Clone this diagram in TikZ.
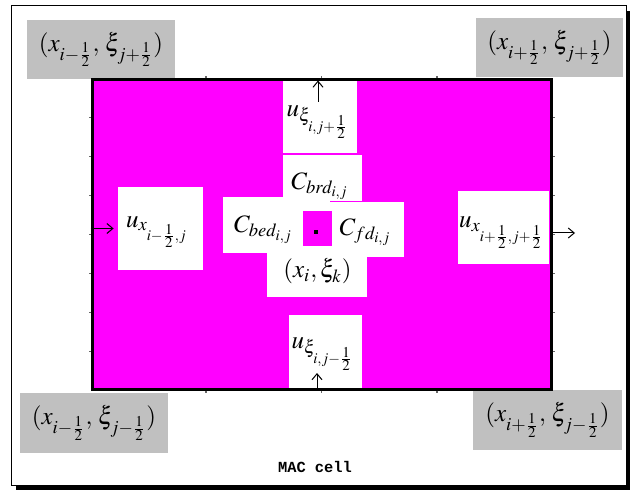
\documentclass[tikz,border=0pt]{standalone}
\usepackage{mathptmx}
\usepackage[no-math]{fontspec}
\newfontfamily\macfont{Liberation Mono}
\usetikzlibrary{arrows.meta, positioning, calc}
\definecolor{CellMagenta}{RGB}{255,0,255}
\definecolor{CornerGray}{RGB}{192,192,192}

\begin{document}
\begin{tikzpicture}[
    x=0.5pt, y=-0.5pt,
    lbl/.style={inner sep=0pt, font=\fontsize{12.5}{15}\selectfont},
    corner/.style={lbl, fill=CornerGray, minimum width=74pt, minimum height=29.5pt},
    facebox/.style={fill=white, inner sep=0pt},
    flux/.style={-{Straight Barb[length=3pt, width=5pt]}, line width=0.5pt},
    tick/.style={line width=0.6pt, black!60},
]
\useasboundingbox (0,0) rectangle (630,491);

% ---- canvas ----
\fill[black] (16,11) rectangle (632,490);
\filldraw[fill=white, draw=black, line width=0.5pt] (11,6) rectangle (626,485);

% ---- corner points ----
\node[corner] (nw) at (101,49.5) {$(x_{i-\frac{1}{2}},\,\xi_{j+\frac{1}{2}})$};
\node[corner, minimum width=73.5pt] (ne) at (549.5,47.5) {$(x_{i+\frac{1}{2}},\,\xi_{j+\frac{1}{2}})$};
\node[corner, minimum height=30pt] (sw) at (94,423) {$(x_{i-\frac{1}{2}},\,\xi_{j-\frac{1}{2}})$};
\node[corner, minimum width=74.5pt, minimum height=30pt] (se) at (547.5,420) {$(x_{i+\frac{1}{2}},\,\xi_{j-\frac{1}{2}})$};

% ---- cell ----
\node[draw, line width=1.5pt, fill=CellMagenta, inner sep=0pt,
    minimum width=229.5pt, minimum height=154.5pt] (cell) at (321.5,234.5) {};
\foreach \t in {1,2,3}{
    \draw[tick] ($(cell.north west)!\t/4!(cell.north east)$) -- ++(0,-2);
    \draw[tick] ($(cell.south west)!\t/4!(cell.south east)$) -- ++(0,2);
}
\foreach \t in {1,...,7}{
    \draw[tick] ($(cell.north west)!\t/8!(cell.south west)$) -- ++(-2,0);
    \draw[tick] ($(cell.north east)!\t/8!(cell.south east)$) -- ++(2,0);
}

% ---- face velocities ----
\node[facebox, minimum width=42.5pt, minimum height=41.5pt] (uw) at (160.5,228.5) {};
\node[facebox, minimum width=45.5pt, minimum height=36.5pt] (ue) at (503.5,227.5) {};
\node[facebox, minimum width=37pt, minimum height=35.75pt] (un) at (320,117.25) {};
\node[facebox, minimum width=36.5pt, minimum height=36.25pt] (us) at (325.5,351.25) {};
\node[lbl] (uw-lbl) at (157,232) {$u_{x_{i-\frac{1}{2},j}}$};
\node[lbl] (ue-lbl) at (502,232.5) {$u_{x_{i+\frac{1}{2},j+\frac{1}{2}}}$};
\node[lbl] (un-lbl) at (318,122) {$u_{\xi_{i,j+\frac{1}{2}}}$};
\node[lbl] (us-lbl) at (323,354) {$u_{\xi_{i,j-\frac{1}{2}}}$};

\coordinate (ue-out) at (575,233);
\coordinate (un-foot) at (318,102);
\coordinate (us-head) at (317,373);
\draw[flux, shorten >=2pt] (cell.west |- uw) -- (uw.west);
\draw[flux] (cell.east |- ue-out) -- (ue-out);
\draw[flux, shorten >=1pt] (un-foot) -- (un-foot |- cell.north);
\draw[flux] (us-head |- cell.south) -- (us-head);

% ---- cell centre ----
\fill[white] (283,155) rectangle (362,201);
\fill[white] (223,197) rectangle (330,253);
\fill[white] (320,202) rectangle (404,257);
\fill[white] (267,253) rectangle (367,297);
\node[fill=CellMagenta, inner sep=0pt, minimum width=14.5pt, minimum height=17.5pt] (core) at (317.5,228.5) {};
\node[fill=black, inner sep=0pt, minimum size=1.6pt] (centre) at (316,232) {};
\node[lbl] (brd) at (320,186) {$C_{brd_{i,j}}$};
\node[lbl] (bed) at (263.5,229.5) {$C_{bed_{i,j}}$};
\node[lbl] (fd) at (365.5,232) {$C_{fd_{i,j}}$};
\node[lbl] (xk) at (317.5,271.5) {$(x_{i},\xi_{k})$};

\node[font=\macfont\bfseries\fontsize{7.7}{9}\selectfont] (title) at (315,467) {MAC cell};

\end{tikzpicture}
\end{document}
